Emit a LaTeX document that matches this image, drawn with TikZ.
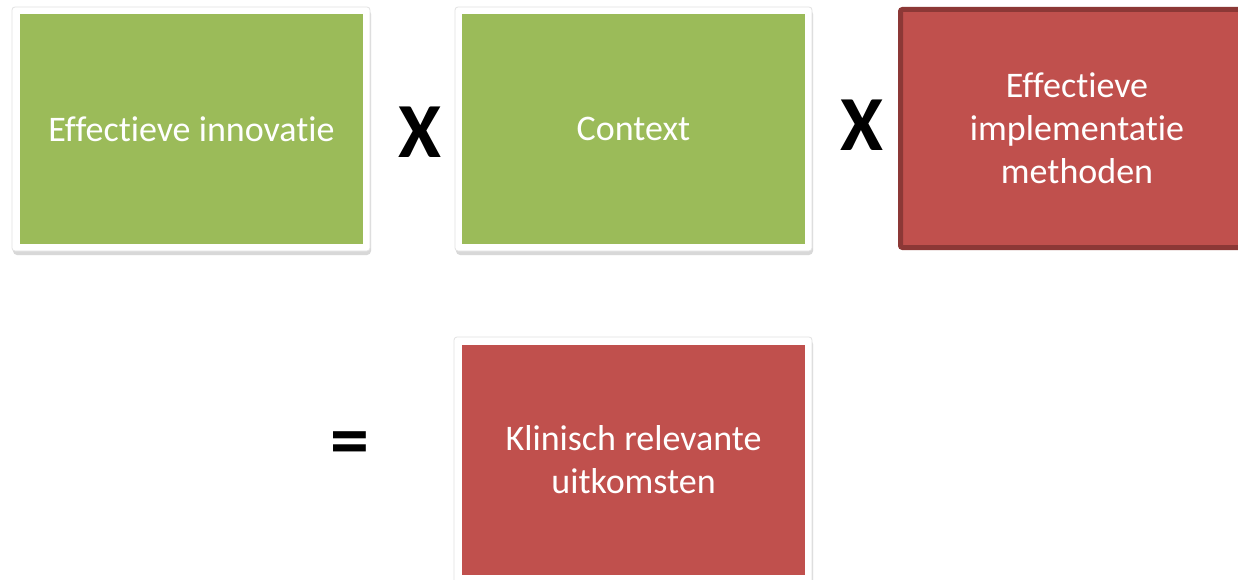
\documentclass[tikz,border=0pt]{standalone}
\usepackage{fontspec}
\setmainfont{Carlito}[Ligatures=NoCommon]
\definecolor{boxgreen}{HTML}{9BBB59}
\definecolor{boxred}{HTML}{C0504D}
\definecolor{boxredline}{HTML}{8C3836}
\definecolor{frameline}{HTML}{E2E2E2}
\definecolor{shadowgray}{HTML}{B8B8B8}
\begin{document}
\begin{tikzpicture}[x=1pt,y=-1pt,
  framebox/.style={fill=white, draw=frameline, line width=0.8pt, rounded corners=3pt},
  shadowbox/.style={fill=shadowgray, opacity=0.55, rounded corners=4pt},
  greenbox/.style={fill=boxgreen, draw=none, inner sep=0pt, minimum width=343pt, minimum height=230pt,
     text=white, font=\fontsize{36}{43}\selectfont, align=center},
  redbox/.style={fill=boxred, draw=none, inner sep=0pt, minimum width=343pt, minimum height=230pt,
     text=white, font=\fontsize{36}{43}\selectfont, align=center},
  opsym/.style={font=\fontsize{78}{78}\selectfont\bfseries, text=black, inner sep=0pt}
]
\useasboundingbox (0,0) rectangle (1238,580);
\clip (0,0) rectangle (1238,580);
\fill[white] (0,0) rectangle (1238,580);

% frames with shadows
\fill[shadowbox] (13,10) rectangle (371,255);
\draw[framebox] (12,7) rectangle (370,251);
\fill[shadowbox] (456,10) rectangle (813,255);
\draw[framebox] (455,7) rectangle (812,251);
\fill[shadowbox] (455,340) rectangle (813,590);
\draw[framebox] (454,337) rectangle (812,590);

% boxes
\node[greenbox] (inno) at (191.5,129) {Effectieve innovatie};
\node[greenbox] (ctx) at (633.5,129) {Context};
\node[redbox, draw=boxredline, line width=5pt, minimum width=353pt, minimum height=238pt,
      rounded corners=2pt] (impl) at (1077,128.5) {Effectieve\\implementatie\\methoden};
\node[redbox] (uitk) at (633.5,459.5) {Klinisch relevante\\uitkomsten};

% operators
\node[opsym] (x1) at (420,132) {X};
\node[opsym] (x2) at (862,125) {X};
\node[opsym] (eq) at (349.5,449) {=};
\end{tikzpicture}
\end{document}
